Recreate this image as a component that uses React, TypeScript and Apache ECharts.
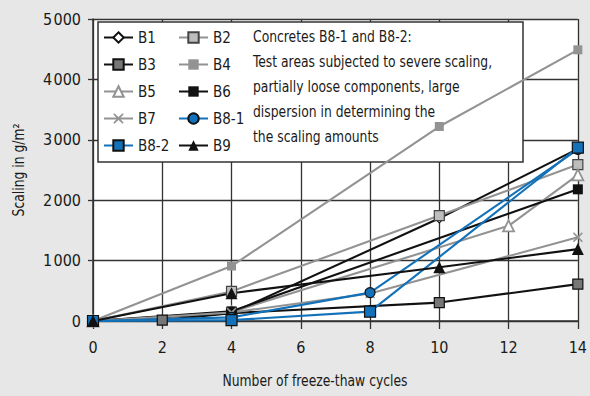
import React, { useEffect, useRef } from "react";
import * as echarts from "echarts";

const xTicks = [0, 2, 4, 6, 8, 10, 12, 14];
const yTicks = [0, 1000, 2000, 3000, 4000, 5000];

const B1 = [[0, 0], [4, 130], [10, 1700], [14, 2850]];
const B2 = [[0, 0], [4, 490], [10, 1745], [14, 2590]];
const B3 = [[0, 0], [2, 15], [4, 130], [10, 305], [14, 610]];
const B4 = [[0, 0], [4, 910], [10, 3220], [14, 4490]];
const B5 = [[0, 0], [4, 150], [12, 1575], [14, 2420]];
const B6 = [[0, 0], [4, 160], [14, 2180]];
const B7 = [[0, 0], [4, 140], [8, 455], [14, 1385]];
const B8_1 = [[0, 0], [4, 60], [8, 470], [14, 2840]];
const B8_2 = [[0, 0], [4, 15], [8, 155], [14, 2870]];
const B9 = [[0, 0], [4, 460], [10, 890], [14, 1190]];

const noteLines = [
  "Concretes B8-1 and B8-2:",
  "Test areas subjected to severe scaling,",
  "partially loose components, large",
  "dispersion in determining the",
  "the scaling amounts",
];

const FONT = "'Liberation Sans Narrow', 'DejaVu Sans Condensed', sans-serif";
const BLACK = "#111111";
const GRAY = "#939393";
const BLUE = "#1271b8";
const XSYM = "path://M1,0 L5,3.6 L9,0 L10,1 L6.4,5 L10,9 L9,10 L5,6.4 L1,10 L0,9 L3.6,5 L0,1 Z";
const NARROW = 0.86;

export default function App() {
  const ref = useRef<HTMLDivElement>(null);
  useEffect(() => {
    if (!ref.current) return;
    const chart = echarts.init(ref.current, null, { renderer: "svg" });
    const mk = (name: string, data: number[][], color: string, symbol: string, size: number, fill: string, border: string, bw: number) => ({
      name,
      type: "line",
      data,
      symbol,
      symbolSize: size,
      lineStyle: { color, width: 2.1 },
      itemStyle: { color: fill, borderColor: border, borderWidth: bw },
      z: 3,
    });
    const series = [
      mk("B1", B1, BLACK, "diamond", 9, "#ffffff", BLACK, 1.2),
      mk("B2", B2, GRAY, "rect", 10, "#bdbdbd", "#444444", 1.2),
      mk("B3", B3, BLACK, "rect", 10, "#777777", BLACK, 1.2),
      mk("B4", B4, GRAY, "rect", 9, GRAY, GRAY, 0),
      mk("B5", B5, GRAY, "triangle", 11, "#ffffff", GRAY, 1.8),
      mk("B6", B6, BLACK, "rect", 10, BLACK, BLACK, 0),
      mk("B7", B7, GRAY, XSYM, 10, GRAY, GRAY, 0),
      mk("B8-1", B8_1, BLUE, "circle", 10, BLUE, BLACK, 1.2),
      mk("B8-2", B8_2, BLUE, "rect", 11, BLUE, BLACK, 1.2),
      mk("B9", B9, BLACK, "triangle", 12, BLACK, BLACK, 0),
    ];
    const legendBase = {
      orient: "vertical",
      top: 30,
      padding: 0,
      itemWidth: 29,
      itemHeight: 13,
      itemGap: 12,
      selectedMode: false,
      textStyle: { fontFamily: FONT, fontSize: 15, color: "#1a1a1a", lineHeight: 13 },
    };
    const txt = (t: string, x: number, y: number, align: string, rotation = 0) => ({
      type: "text",
      z: 100,
      x,
      y,
      rotation,
      scaleX: NARROW,
      style: { text: t, fontFamily: FONT, fontSize: 16, fill: "#1a1a1a", textAlign: align, textVerticalAlign: "middle" },
    });
    chart.setOption({
      animation: false,
      backgroundColor: "#e6e7e6",
      grid: { left: 93, right: 4, top: 19, bottom: 75, show: true, backgroundColor: "#ffffff", borderWidth: 0 },
      xAxis: {
        type: "value",
        min: xTicks[0],
        max: xTicks[xTicks.length - 1],
        interval: 2,
        axisLine: { show: true, lineStyle: { color: "#333333", width: 1.5 } },
        axisTick: { show: true, length: 8, lineStyle: { color: "#333333", width: 1.3 } },
        splitLine: { show: true, lineStyle: { color: "#333333", width: 1.3 } },
        axisLabel: { fontFamily: FONT, fontSize: 16, color: "#1a1a1a", margin: 18 },
      },
      yAxis: {
        type: "value",
        min: yTicks[0],
        max: yTicks[yTicks.length - 1],
        interval: 1000,
        axisLine: { show: true, lineStyle: { color: "#333333", width: 1.5 } },
        axisTick: { show: true, length: 5, lineStyle: { color: "#333333", width: 1.3 } },
        splitLine: { show: true, lineStyle: { color: "#333333", width: 1.3 } },
        axisLabel: {
          fontFamily: FONT,
          fontSize: 16,
          color: "#1a1a1a",
          margin: 12,
          formatter: (v: number) => String(v).replace(/^(\d)(\d{3})$/, "$1\u200a$2"),
        },
      },
      legend: [
        { ...legendBase, left: 103, data: ["B1", "B3", "B5", "B7", "B8-2"] },
        { ...legendBase, left: 178, data: ["B2", "B4", "B6", "B8-1", "B9"] },
      ],
      graphic: [
        {
          type: "rect",
          z: 1,
          shape: { x: 98, y: 22, width: 425, height: 140 },
          style: { fill: "#ffffff", stroke: "#333333", lineWidth: 1.5 },
        },
        ...noteLines.map((t, i) => txt(t, 253, 37 + i * 25, "left")),
        txt("Scaling in g/m\u00b2", 19, 170, "center", Math.PI / 2),
        txt("Number of freeze-thaw cycles", 315, 381, "center"),
      ],
      series,
    });
    return () => chart.dispose();
  }, []);
  return <div ref={ref} style={{ position: "fixed", left: 0, top: 0, width: 590, height: 396 }} />;
}
